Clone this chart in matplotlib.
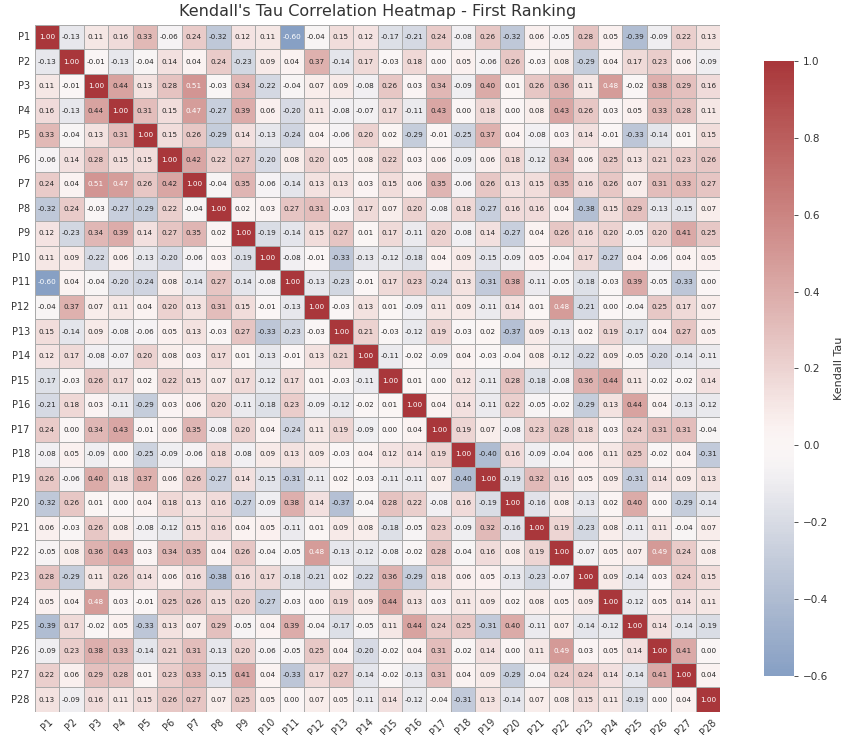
import numpy as np
import pandas as pd
import matplotlib
matplotlib.use('Agg')
import matplotlib.pyplot as plt
import seaborn as sns

# participant labels P1 .. P28
labels = ['P%d' % i for i in range(1, 29)]

# upper triangle of the Kendall tau matrix, row i holds columns i+1 .. 28
upper = [
    [-0.13, 0.11, 0.16, 0.33, -0.06, 0.24, -0.32, 0.12, 0.11, -0.60, -0.04, 0.15, 0.12, -0.17, -0.21, 0.24, -0.08, 0.26, -0.32, 0.06, -0.05, 0.28, 0.05, -0.39, -0.09, 0.22, 0.13],
    [-0.01, -0.13, -0.04, 0.14, 0.04, 0.24, -0.23, 0.09, 0.04, 0.37, -0.14, 0.17, -0.03, 0.18, 0.00, 0.05, -0.06, 0.26, -0.03, 0.08, -0.29, 0.04, 0.17, 0.23, 0.06, -0.09],
    [0.44, 0.13, 0.28, 0.51, -0.03, 0.34, -0.22, -0.04, 0.07, 0.09, -0.08, 0.26, 0.03, 0.34, -0.09, 0.40, 0.01, 0.26, 0.36, 0.11, 0.48, -0.02, 0.38, 0.29, 0.16],
    [0.31, 0.15, 0.47, -0.27, 0.39, 0.06, -0.20, 0.11, -0.08, -0.07, 0.17, -0.11, 0.43, 0.00, 0.18, 0.00, 0.08, 0.43, 0.26, 0.03, 0.05, 0.33, 0.28, 0.11],
    [0.15, 0.26, -0.29, 0.14, -0.13, -0.24, 0.04, -0.06, 0.20, 0.02, -0.29, -0.01, -0.25, 0.37, 0.04, -0.08, 0.03, 0.14, -0.01, -0.33, -0.14, 0.01, 0.15],
    [0.42, 0.22, 0.27, -0.20, 0.08, 0.20, 0.05, 0.08, 0.22, 0.03, 0.06, -0.09, 0.06, 0.18, -0.12, 0.34, 0.06, 0.25, 0.13, 0.21, 0.23, 0.26],
    [-0.04, 0.35, -0.06, -0.14, 0.13, 0.13, 0.03, 0.15, 0.06, 0.35, -0.06, 0.26, 0.13, 0.15, 0.35, 0.16, 0.26, 0.07, 0.31, 0.33, 0.27],
    [0.02, 0.03, 0.27, 0.31, -0.03, 0.17, 0.07, 0.20, -0.08, 0.18, -0.27, 0.16, 0.16, 0.04, -0.38, 0.15, 0.29, -0.13, -0.15, 0.07],
    [-0.19, -0.14, 0.15, 0.27, 0.01, 0.17, -0.11, 0.20, -0.08, 0.14, -0.27, 0.04, 0.26, 0.16, 0.20, -0.05, 0.20, 0.41, 0.25],
    [-0.08, -0.01, -0.33, -0.13, -0.12, -0.18, 0.04, 0.09, -0.15, -0.09, 0.05, -0.04, 0.17, -0.27, 0.04, -0.06, 0.04, 0.05],
    [-0.13, -0.23, -0.01, 0.17, 0.23, -0.24, 0.13, -0.31, 0.38, -0.11, -0.05, -0.18, -0.03, 0.39, -0.05, -0.33, 0.00],
    [-0.03, 0.13, 0.01, -0.09, 0.11, 0.09, -0.11, 0.14, 0.01, 0.48, -0.21, 0.00, -0.04, 0.25, 0.17, 0.07],
    [0.21, -0.03, -0.12, 0.19, -0.03, 0.02, -0.37, 0.09, -0.13, 0.02, 0.19, -0.17, 0.04, 0.27, 0.05],
    [-0.11, -0.02, -0.09, 0.04, -0.03, -0.04, 0.08, -0.12, -0.22, 0.09, -0.05, -0.20, -0.14, -0.11],
    [0.01, 0.00, 0.12, -0.11, 0.28, -0.18, -0.08, 0.36, 0.44, 0.11, -0.02, -0.02, 0.14],
    [0.04, 0.14, -0.11, 0.22, -0.05, -0.02, -0.29, 0.13, 0.44, 0.04, -0.13, -0.12],
    [0.19, 0.07, -0.08, 0.23, 0.28, 0.18, 0.03, 0.24, 0.31, 0.31, -0.04],
    [-0.40, 0.16, -0.09, -0.04, 0.06, 0.11, 0.25, -0.02, 0.04, -0.31],
    [-0.19, 0.32, 0.16, 0.05, 0.09, -0.31, 0.14, 0.09, 0.13],
    [-0.16, 0.08, -0.13, 0.02, 0.40, 0.00, -0.29, -0.14],
    [0.19, -0.23, 0.08, -0.11, 0.11, -0.04, 0.07],
    [-0.07, 0.05, 0.07, 0.49, 0.24, 0.08],
    [0.09, -0.14, 0.03, 0.24, 0.15],
    [-0.12, 0.05, 0.14, 0.11],
    [0.14, -0.14, -0.19],
    [0.41, 0.00],
    [0.04],
]

# build the full symmetric matrix with ones on the diagonal
n = len(labels)
tau = np.eye(n)
for i, row in enumerate(upper):
    for k, v in enumerate(row):
        tau[i, i + 1 + k] = v
        tau[i + 1 + k, i] = v
df = pd.DataFrame(tau, index=labels, columns=labels)

fig = plt.figure(figsize=(8.41, 7.35), dpi=100)
ax = fig.add_axes([0.0413, 0.0313, 0.8152, 0.9351])
cax = fig.add_axes([0.9084, 0.0803, 0.0357, 0.8367])

sns.heatmap(df, ax=ax, cbar_ax=cax, cmap='vlag', center=0,
            annot=True, fmt='.2f', annot_kws={'size': 5.2},
            linewidths=0.5, linecolor='#aaaaaa',
            cbar_kws={'label': 'Kendall Tau'})

ax.set_title("Kendall's Tau Correlation Heatmap - First Ranking", fontsize=11.5, color='#333333', pad=6)
ax.tick_params(axis='x', labelsize=7, rotation=45, length=0, colors='#333333')
ax.tick_params(axis='y', labelsize=7, rotation=0, length=0, colors='#333333')

cax.tick_params(labelsize=7.5, colors='#333333', length=3, width=0.6)
cax.yaxis.label.set_size(8)
cax.yaxis.label.set_color('#333333')

plt.savefig('out.png', dpi=100)
